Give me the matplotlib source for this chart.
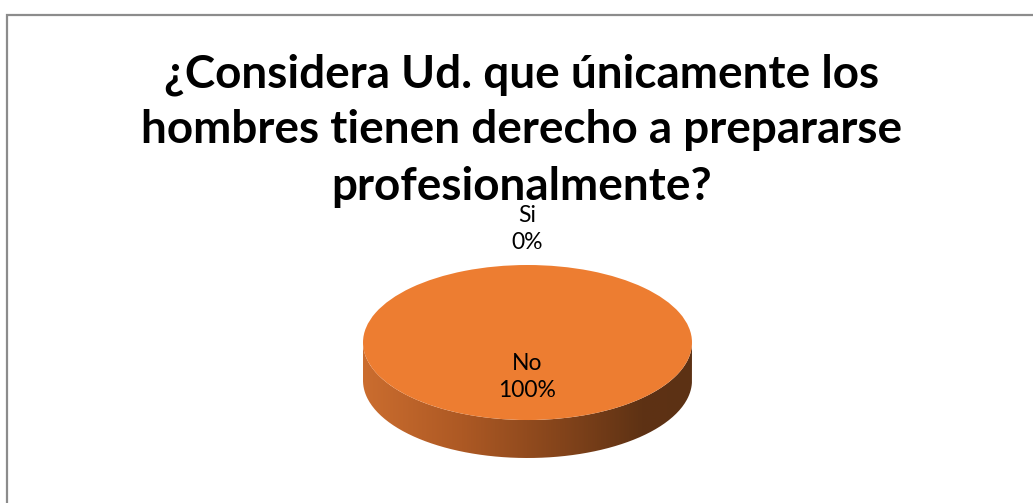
import numpy as np
import matplotlib
matplotlib.use("Agg")
import matplotlib.pyplot as plt
from matplotlib.patches import Rectangle, PathPatch
from matplotlib.path import Path
from matplotlib.colors import LinearSegmentedColormap

# datos
labels = ["Si", "No"]
values = [0, 100]
title_lines = ["¿Considera Ud. que únicamente los",
               "hombres tienen derecho a prepararse",
               "profesionalmente?"]

W, H = 1033, 503
fig = plt.figure(figsize=(W / 100, H / 100), dpi=100)
fig.patch.set_facecolor("white")

# marco gris del gráfico
fig.patches.append(Rectangle((7 / W, -0.1), 1.2, 1.1 - 15 / H, transform=fig.transFigure,
                             fill=False, edgecolor="#8c8c8c", linewidth=1.6))

# título, línea por línea
for txt, base in zip(title_lines, [88, 143, 200]):
    fig.text(522 / W, 1 - base / H, txt, ha="center", va="baseline",
             fontsize=33, fontweight="bold", family="Lato", color="black")

# pastel 3D: cara superior + costado con degradado
depth = 0.49
ax = fig.add_axes([363 / W, 1 - 458 / H, 329 / W, 193 / H])
wedges, _ = ax.pie(values, radius=1, center=(0, 0), startangle=90, counterclock=False,
                   colors=["#4472C4", "#ED7D31"], wedgeprops=dict(linewidth=0))
ax.set_aspect("auto")
ax.axis("off")

t = np.linspace(np.pi, 2 * np.pi, 200)
xs = np.concatenate([np.cos(t), np.cos(t[::-1])])
ys = np.concatenate([np.sin(t), np.sin(t[::-1]) - depth])
side = PathPatch(Path(np.column_stack([xs, ys])), facecolor="none", edgecolor="none")
ax.add_patch(side)
cmap = LinearSegmentedColormap.from_list(
    "lado", [(0, "#cb6d2f"), (0.3, "#ad5924"), (0.6, "#84441b"), (0.85, "#5e3214"), (1, "#5c3114")])
grad = np.linspace(0, 1, 256).reshape(1, -1)
im = ax.imshow(grad, extent=(-1, 1, -1 - depth, 0), aspect="auto", cmap=cmap, zorder=0)
im.set_clip_path(side)
ax.set_xlim(-1, 1)
ax.set_ylim(-1 - depth, 1)

# etiquetas de datos
total = sum(values)
start = 90
for lab, v in zip(labels, values):
    ang = np.deg2rad(start - 360 * v / total / 2)
    dist = 1.47 if v == 0 else 0.45
    ax.text(dist * np.cos(ang), dist * np.sin(ang), f"{lab}\n{v / total * 100:.0f}%",
            ha="center", va="center", fontsize=16.5, family="Lato", color="black",
            linespacing=1.35, clip_on=False)
    start -= 360 * v / total

fig.savefig("out.png", dpi=100)
